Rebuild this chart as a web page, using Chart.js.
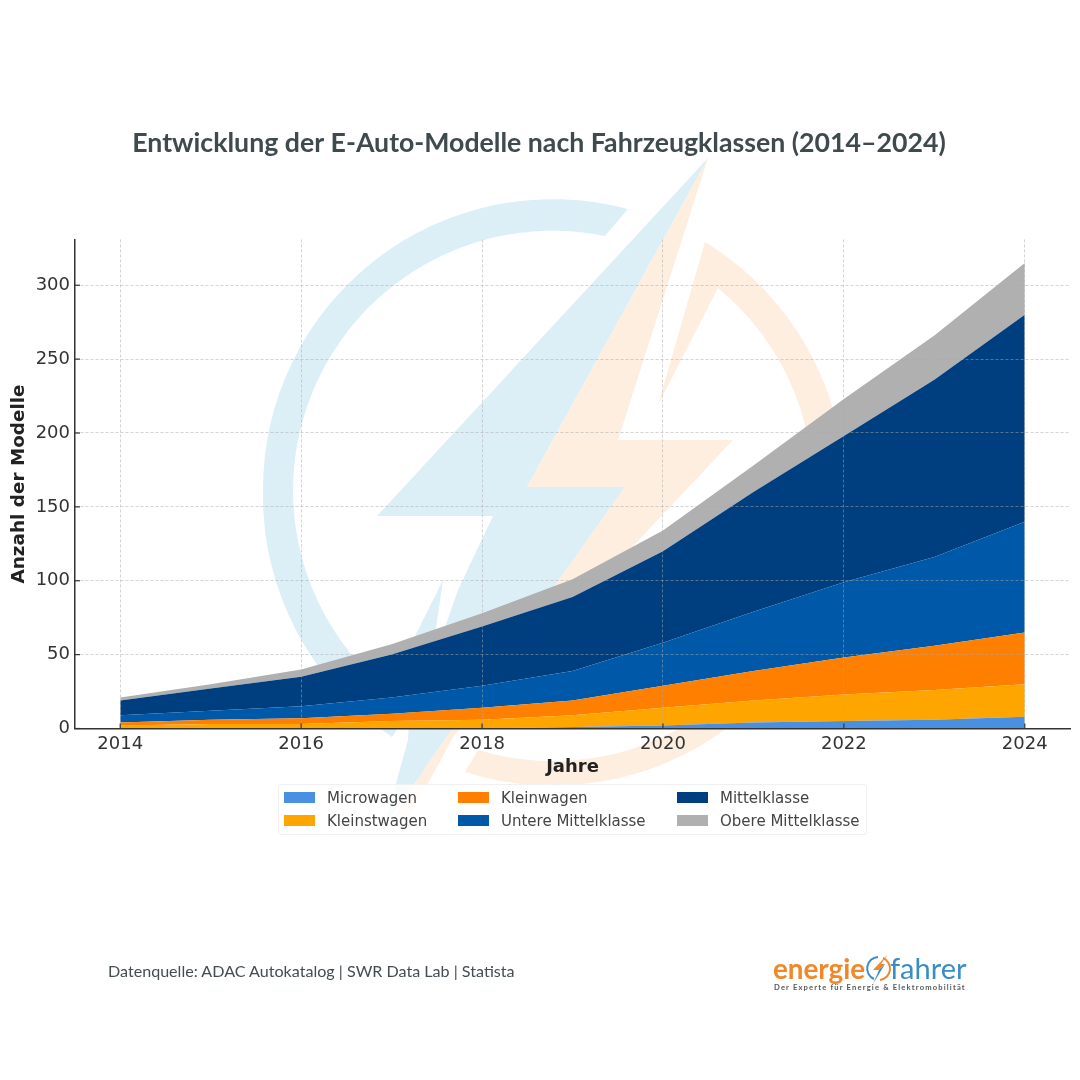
<!DOCTYPE html>
<html lang="de">
<head>
<meta charset="utf-8">
<title>E-Auto-Modelle</title>
<script src="https://cdn.jsdelivr.net/npm/chart.js@4/dist/chart.umd.min.js"></script>
<style>
  html, body { margin: 0; padding: 0; background: #fff; }
  #page { position: relative; width: 1080px; height: 1080px; overflow: hidden; }
  #page svg.mark { position: absolute; left: 0; top: 0; }
  #wrap { position: absolute; left: 0; top: 0; width: 1080px; height: 1080px; }
  #legend { position: absolute; left: 278px; top: 784px; width: 589px; height: 51px; box-sizing: border-box;
    background: rgba(255,255,255,.8); border: 1px solid #f0f0f0; border-radius: 3px;
    font: 15px "DejaVu Sans", sans-serif; color: #444; }
  #legend .item { position: absolute; height: 20px; line-height: 20px; white-space: nowrap; }
  #legend .swatch { position: absolute; left: 0; top: 4px; width: 31px; height: 11px; }
  #legend .label { position: absolute; left: 43px; top: 0; }
  #source { position: absolute; left: 108px; top: 961px; font: 16.1px Lato, sans-serif; color: #444d51; }
  #logo { position: absolute; left: 0; top: 0; }
</style>
</head>
<body>
<div id="page">
  <svg class="mark" width="1080" height="1080" viewBox="0 0 1080 1080">
    <g fill="#dceff6">
      <path d="M628 209 A290 290 0 0 0 263 491 A290 290 0 0 0 392 737 L411 708 A260 260 0 0 1 293 491 A260 260 0 0 1 605 236 Z"/>
      <path d="M708 158 L377 516 L493 516 L458 590 L430 670 L443 580 L413 640 L408 740 L384 827 L625 487 L527 487 Z"/>
    </g>
    <g fill="#fdeee0">
      <path d="M705 242 L658 405 L718 288 A260 260 0 0 1 813 491 A260 260 0 0 1 478 750 L465 772 A292 292 0 0 0 845 491 A292 292 0 0 0 705 242 Z"/>
      <path d="M708 158 L527 487 L625 487 L430 760 L388 827 L410 815 L441 760 L453 737 L733 440 L618 440 Z"/>
    </g>
  </svg>
  <div id="wrap"><canvas id="chart"></canvas></div>
  <div id="legend"></div>
  <div id="source">Datenquelle: ADAC Autokatalog | SWR Data Lab | Statista</div>
  <svg id="logo" width="1080" height="1080" viewBox="0 0 1080 1080">
    <text x="773" y="979" font-family="Lato" font-weight="700" font-size="27.8" fill="#f0882a">energie</text>
    <path d="M878 957 A11.5 11.5 0 0 0 874 979" fill="none" stroke="#3a8cc9" stroke-width="2"/>
    <path d="M883 958 A11.5 11.5 0 0 1 880 980" fill="none" stroke="#f0882a" stroke-width="2"/>
    <path d="M888 954 L873 970 L879 970 L885 964 L881 964 Z" fill="#f0882a"/>
    <path d="M879 970 L873 984 L885 964 Z" fill="#3a8cc9"/>
    <text x="890" y="979" font-family="Lato" font-size="29" fill="#3a8cc9">fahrer</text>
    <text x="774" y="990" font-family="Lato" font-weight="700" font-size="7.6" letter-spacing="1.16" fill="#55585a">Der Experte für Energie &amp; Elektromobilität</text>
  </svg>
</div>
<script>
const titleText = 'Entwicklung der E-Auto-Modelle nach Fahrzeugklassen (2014–2024)';
const years = [2014, 2015, 2016, 2017, 2018, 2019, 2020, 2021, 2022, 2023, 2024];
const classNames = ['Microwagen', 'Kleinstwagen', 'Kleinwagen', 'Untere Mittelklasse', 'Mittelklasse', 'Obere Mittelklasse'];
const classColors = ['#4a90e2', '#ffa500', '#ff7f00', '#0059a8', '#003f7f', '#b0b0b0'];
const microwagen = [0, 0, 0, 0, 0, 1, 2, 4, 5, 6, 8];
const kleinstwagen = [2, 3, 3, 5, 6, 8, 12, 15, 18, 20, 22];
const kleinwagen = [2, 3, 4, 5, 8, 10, 15, 20, 25, 30, 35];
const untereMittelklasse = [5, 6, 8, 11, 15, 20, 29, 40, 51, 60, 75];
const mittelklasse = [10, 15, 20, 29, 40, 50, 62, 81, 99, 120, 140];
const obereMittelklasse = [2, 3, 5, 7, 9, 12, 14, 18, 25, 30, 35];
const classValues = [microwagen, kleinstwagen, kleinwagen, untereMittelklasse, mittelklasse, obereMittelklasse];

// ticks point inwards like in the original
const innerTicks = {
  id: 'innerTicks',
  afterDraw(chart) {
    const { ctx, chartArea, scales } = chart;
    ctx.save();
    ctx.strokeStyle = '#333';
    ctx.lineWidth = 1.2;
    scales.x.ticks.forEach(t => {
      const px = scales.x.getPixelForValue(t.value);
      ctx.beginPath();
      ctx.moveTo(px, chartArea.bottom);
      ctx.lineTo(px, chartArea.bottom - 5);
      ctx.stroke();
    });
    scales.y.ticks.forEach(t => {
      const py = scales.y.getPixelForValue(t.value);
      ctx.beginPath();
      ctx.moveTo(chartArea.left, py);
      ctx.lineTo(chartArea.left + 5, py);
      ctx.stroke();
    });
    ctx.restore();
  }
};

const datasets = classNames.map((name, i) => ({
  label: name,
  data: years.map((y, j) => ({ x: y, y: classValues[i][j] })),
  backgroundColor: classColors[i],
  borderWidth: 0,
  pointRadius: 0,
  tension: 0,
  fill: i === 0 ? 'origin' : '-1'
}));

new Chart(document.getElementById('chart'), {
  type: 'line',
  data: { datasets },
  plugins: [innerTicks],
  options: {
    responsive: true,
    maintainAspectRatio: false,
    animation: false,
    layout: { padding: { left: 8, right: 10, top: 0, bottom: 301.5 } },
    plugins: {
      legend: { display: false },
      tooltip: { enabled: false },
      title: {
        display: true,
        text: titleText,
        color: '#3f4a4e',
        font: { family: 'Lato', weight: '700', size: 26.7, lineHeight: 1.2 },
        padding: { top: 127, bottom: 80.4 }
      }
    },
    scales: {
      x: {
        type: 'linear',
        min: 2013.5,
        max: 2024.5,
        afterFit: s => { s.height = 50; },
        grid: { color: 'rgba(170,170,170,.5)', z: 1, drawTicks: false },
        border: { color: '#333', width: 1.5, dash: [3, 2], display: true, z: 2 },
        ticks: {
          stepSize: 2,
          includeBounds: false,
          maxRotation: 0,
          padding: 5,
          color: '#333',
          font: { family: 'DejaVu Sans', size: 18 },
          callback: v => String(v)
        },
        title: {
          display: true,
          text: 'Jahre',
          color: '#222',
          padding: { top: 0, bottom: 0 },
          font: { family: 'DejaVu Sans', weight: '700', size: 18 }
        }
      },
      y: {
        stacked: true,
        min: 0,
        max: 331,
        afterFit: s => { s.width = 67; },
        grid: { color: 'rgba(170,170,170,.5)', z: 1, drawTicks: false },
        border: { color: '#333', width: 1.5, dash: [3, 2], z: 2 },
        ticks: {
          stepSize: 50,
          includeBounds: false,
          padding: 5,
          color: '#333',
          font: { family: 'DejaVu Sans', size: 18 }
        },
        title: {
          display: true,
          text: 'Anzahl der Modelle',
          color: '#222',
          padding: { top: 0, bottom: 0 },
          font: { family: 'DejaVu Sans', weight: '700', size: 18.4 }
        }
      }
    }
  }
});

// legend fills column by column, Chart.js cannot do that on its own
const legendCols = [5, 179, 398];
const legendRows = [3, 26];
const legendEl = document.getElementById('legend');
classNames.forEach((name, i) => {
  const item = document.createElement('div');
  item.className = 'item';
  item.style.left = legendCols[Math.floor(i / 2)] + 'px';
  item.style.top = legendRows[i % 2] + 'px';
  item.innerHTML = '<span class="swatch" style="background:' + classColors[i] + '"></span><span class="label">' + name + '</span>';
  legendEl.appendChild(item);
});
</script>
</body>
</html>
